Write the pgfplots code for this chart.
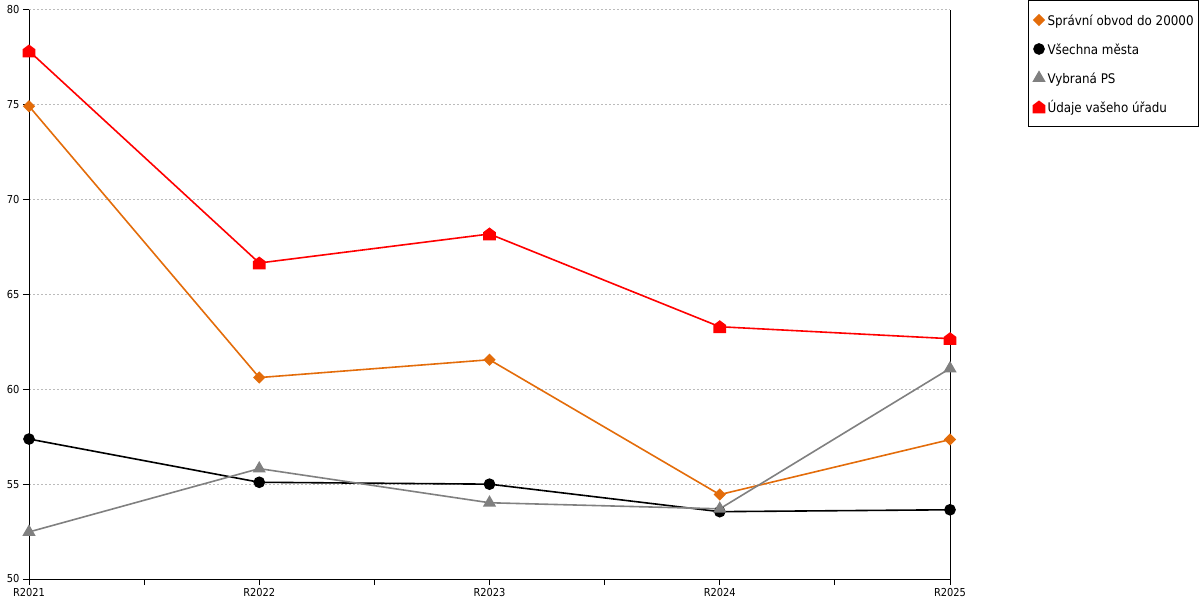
\documentclass[border=0pt]{standalone}
\usepackage{pgfplots}
\pgfplotsset{compat=1.18}
\usepackage{fontspec}
\setmainfont{DejaVu Sans Condensed}
\usetikzlibrary{plotmarks}
\definecolor{corange}{HTML}{E36C0A}
\definecolor{cgray}{HTML}{808080}
\definecolor{cred}{HTML}{FF0000}
\definecolor{cgrid}{HTML}{BBBBBB}
\pgfdeclareplotmark{house}{%
 \pgfpathmoveto{\pgfqpoint{-\pgfplotmarksize}{-\pgfplotmarksize}}%
 \pgfpathlineto{\pgfqpoint{\pgfplotmarksize}{-\pgfplotmarksize}}%
 \pgfpathlineto{\pgfqpoint{\pgfplotmarksize}{0.25\pgfplotmarksize}}%
 \pgfpathlineto{\pgfqpoint{0pt}{\pgfplotmarksize}}%
 \pgfpathlineto{\pgfqpoint{-\pgfplotmarksize}{0.25\pgfplotmarksize}}%
 \pgfpathclose
 \pgfusepathqfillstroke}
\pgfdeclareplotmark{sqdiamond}{%
 \pgfpathmoveto{\pgfqpoint{0pt}{\pgfplotmarksize}}%
 \pgfpathlineto{\pgfqpoint{\pgfplotmarksize}{0pt}}%
 \pgfpathlineto{\pgfqpoint{0pt}{-\pgfplotmarksize}}%
 \pgfpathlineto{\pgfqpoint{-\pgfplotmarksize}{0pt}}%
 \pgfpathclose
 \pgfusepathqfillstroke}
\pgfplotsset{markonly/.style={legend image code/.code={\draw[##1, only marks] plot coordinates {(5bp,0bp)};}}}
\begin{document}
\begin{tikzpicture}
\path[use as bounding box] (-29bp,-21bp) rectangle (1171bp,579bp);
\begin{axis}[
  at={(0,0)}, anchor=south west,
  scale only axis, width=921bp, height=569bp,
  xmin=0, xmax=4, ymin=50, ymax=80,
  axis x line*=bottom, axis y line*=left,
  axis line style={line width=1bp, -},
  xtick={0,1,2,3,4},
  xticklabels={R2021,R2022,R2023,R2024,R2025},
  minor xtick={0.5,1.5,2.5,3.5},
  ytick={50,55,...,80},
  tick align=outside,
  major tick length=6bp, minor tick length=6bp,
  tick style={line width=1bp, black},
  ymajorgrids,
  major grid style={dash pattern=on 2bp off 2bp, cgrid, line width=1bp},
  ticklabel style={font=\fontsize{11}{13}\selectfont},
  /pgf/number format/assume math mode=true,
  clip=false,
  markonly,
  legend cell align=left,
  legend style={at={(1.0847,1.0176)}, anchor=north west, draw=black, line width=1bp,
    font=\fontsize{13.3}{15}\selectfont, inner xsep=5bp, inner ysep=5bp,
    row sep=0bp,
    /tikz/every odd column/.append style={column sep=3bp},
    nodes={inner sep=0pt, text height=20bp, text depth=9bp}},
  every axis plot/.append style={line width=1.6bp},
]
\addplot[corange, mark=sqdiamond, mark size=5bp]
  coordinates {(0,74.93) (1,60.62) (2,61.56) (3,54.45) (4,57.35)};
\addlegendentry{Správní obvod do 20000}
\addplot[black, mark=*, mark size=5bp]
  coordinates {(0,57.38) (1,55.1) (2,55.0) (3,53.55) (4,53.65)};
\addlegendentry{Všechna města}
\addplot[cgray, mark=triangle*, mark size=6bp]
  coordinates {(0,52.48) (1,55.82) (2,54.02) (3,53.7) (4,61.1)};
\addlegendentry{Vybraná PS}
\addplot[cred, mark=house, mark size=5.5bp]
  coordinates {(0,77.84) (1,66.66) (2,68.19) (3,63.3) (4,62.67)};
\addlegendentry{Údaje vašeho úřadu}
\draw[line width=1bp] (rel axis cs:1,0) -- (rel axis cs:1,1);
\end{axis}
\end{tikzpicture}
\end{document}
